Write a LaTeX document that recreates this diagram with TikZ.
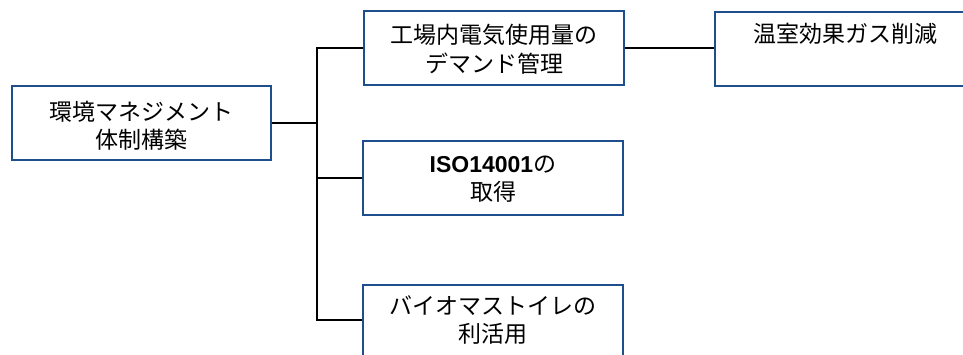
\documentclass[tikz,border=0pt]{standalone}
\usepackage{fontspec}
\setmainfont{Noto Sans CJK JP}
\newfontfamily\latinbold{Liberation Sans}
\definecolor{boxblue}{HTML}{1F4E8C}
\begin{document}
\begin{tikzpicture}[x=1pt,y=-1pt,
  box/.style={draw=boxblue,line width=2pt,fill=white,rectangle,inner sep=0pt,
    minimum width=260pt,minimum height=74pt,align=center},
  txt/.style={inner sep=0pt,align=center,font=\fontsize{23}{28.5}\selectfont},
  conn/.style={draw=black,line width=2pt}]
\useasboundingbox (0,0) rectangle (963,354);
\clip (0,0) rectangle (963,354);
\node[box,minimum width=259pt] (root) at (141.5,123) {};
\node[txt] (roott) at (141.5,126) {環境マネジメント\\体制構築};
\node[box] (dem) at (494,47.5) {};
\node[txt] (demt) at (494,49) {工場内電気使用量の\\デマンド管理};
\node[box] (iso) at (493,178) {};
\node[txt] (isot) at (493,179) {{\latinbold\bfseries ISO14001}の\\取得};
\node[box,minimum height=80pt,anchor=north] (bio) at (493,284) {};
\node[txt] (biot) at (493,320) {バイオマストイレの\\利活用};
\node[box,minimum width=270pt,anchor=north west] (ghg) at (714,11) {};
\node[txt] (ghgt) at (845,34) {温室効果ガス削減};
\coordinate (j) at (317,123);
\coordinate (jb) at (317,320);
\draw[conn] (root.east) -- (j);
\draw[conn] (dem.west) -| (jb) -- (bio.west |- jb);
\draw[conn] (iso.west) -- (iso.west -| j);
\draw[conn] (dem.east) -- (ghg.west |- dem.east);
\end{tikzpicture}
\end{document}
